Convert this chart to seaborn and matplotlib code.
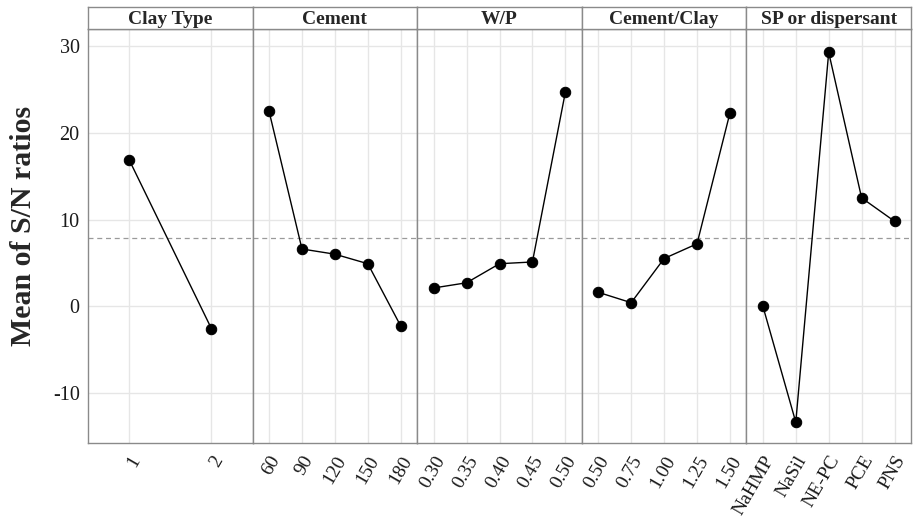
import matplotlib
matplotlib.use("Agg")
import matplotlib.pyplot as plt
import seaborn as sns
import pandas as pd

# data (mean S/N ratio per level)
factors = ["Clay Type", "Cement", "W/P", "Cement/Clay", "SP or dispersant"]
clay_levels = ["1", "2"]
clay_sn = [16.9, -2.6]
cement_levels = ["60", "90", "120", "150", "180"]
cement_sn = [22.5, 6.6, 6.0, 4.9, -2.3]
wp_levels = ["0.30", "0.35", "0.40", "0.45", "0.50"]
wp_sn = [2.1, 2.7, 4.9, 5.1, 24.7]
ratio_levels = ["0.50", "0.75", "1.00", "1.25", "1.50"]
ratio_sn = [1.6, 0.4, 5.5, 7.2, 22.3]
sp_levels = ["NaHMP", "NaSil", "NE-PC", "PCE", "PNS"]
sp_sn = [0.0, -13.4, 29.3, 12.5, 9.8]
grand_mean = 7.85
y_ticks = [-10, 0, 10, 20, 30]

levels = [clay_levels, cement_levels, wp_levels, ratio_levels, sp_levels]
values = [clay_sn, cement_sn, wp_sn, ratio_sn, sp_sn]

rows = []
for f, lv, vals in zip(factors, levels, values):
    for l, v in zip(lv, vals):
        rows.append({"factor": f, "level": l, "sn": v})
df = pd.DataFrame(rows)

sns.set_style("white")
plt.rcParams["font.family"] = ["Liberation Serif", "DejaVu Serif"]
plt.rcParams["axes.unicode_minus"] = False

W, H = 914, 516
fig = plt.figure(figsize=(W / 100, H / 100), dpi=100)

left_px, right_px = 88, 911
top_px, bottom_px = 29, 443
strip_top_px = 7
pw = (right_px - left_px) / len(factors)
border = "#8a8a8a"
grid_c = "#e6e6e6"

for i, f in enumerate(factors):
    x0 = (left_px + i * pw) / W
    ax = fig.add_axes([x0, (H - bottom_px) / H, pw / W, (bottom_px - top_px) / H])
    sub = df[df["factor"] == f]
    sns.pointplot(data=sub, x="level", y="sn", order=levels[i], ax=ax,
                  color="black", errorbar=None, markersize=7.5, linewidth=1)
    ax.axhline(grand_mean, color="#9a9a9a", linestyle=(0, (4, 3)), linewidth=0.9, zorder=1)
    ax.set_xlim(-0.5, len(levels[i]) - 0.5)
    ax.set_ylim(-15.8, 32.0)
    ax.set_yticks(y_ticks)
    ax.set_axisbelow(True)
    ax.grid(True, color=grid_c, linewidth=1)
    ax.set_xlabel("")
    ax.set_ylabel("")
    for s in ax.spines.values():
        s.set_color(border)
        s.set_linewidth(1)
    ax.tick_params(axis="x", length=4, color=border, labelsize=14, labelcolor="#1a1a1a",
                   labelrotation=60, pad=3)
    for t in ax.get_xticklabels():
        t.set_ha("right")
        t.set_rotation_mode("anchor")
    if i == 0:
        ax.tick_params(axis="y", length=4, color=border, labelsize=14.5, labelcolor="#1a1a1a", pad=2)
    else:
        ax.tick_params(axis="y", left=False, labelleft=False)

    # strip on top of each panel
    sax = fig.add_axes([x0, (H - top_px) / H, pw / W, (top_px - strip_top_px) / H])
    sax.set_xticks([])
    sax.set_yticks([])
    for s in sax.spines.values():
        s.set_color(border)
        s.set_linewidth(1)
    sax.text(0.5, 0.45, f, ha="center", va="center", fontsize=14, fontweight="bold",
             transform=sax.transAxes)

fig.text(24 / W, 1 - 226 / H, "Mean of S/N ratios", rotation=90, ha="center", va="center",
         fontsize=21.5, fontweight="bold")

fig.savefig("out.png", dpi=100)
